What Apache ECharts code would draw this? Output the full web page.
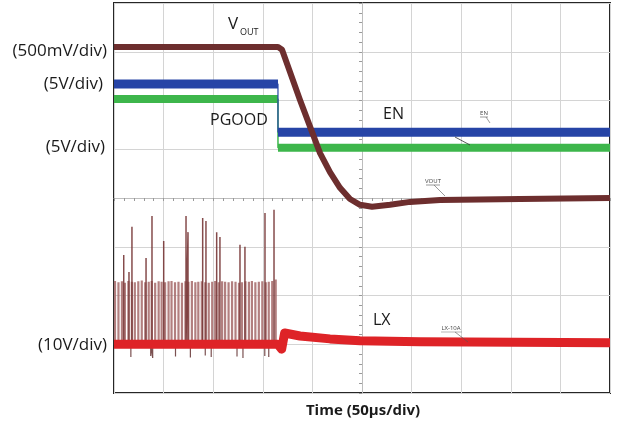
<!DOCTYPE html>
<html>
<head>
<meta charset="utf-8">
<script src="https://cdn.jsdelivr.net/npm/echarts@6/dist/echarts.min.js"></script>
<style>
html,body{margin:0;padding:0;background:#fff;}
#c{width:618px;height:425px;}
</style>
</head>
<body>
<div id="c"></div>
<script>
// Time in microseconds (10 div x 50 us), amplitude in screen divisions (0..8, bottom to top)
const voutT = [0, 165.3, 169.4, 187.5, 207.7, 217.7, 227.8, 237.9, 248, 260.1, 278.2, 298.4, 328.6, 409.3, 500];
const voutV = [7.10, 7.10, 7.04, 6.01, 4.92, 4.53, 4.21, 3.98, 3.86, 3.82, 3.86, 3.92, 3.96, 3.98, 4.00];

const enT = [0, 165.3, 165.3, 500];
const enV = [6.34, 6.34, 5.35, 5.35];

const pgT = [0, 165.3, 165.3, 500];
const pgV = [6.03, 6.03, 5.03, 5.03];

const lxT = [0, 165, 169, 172, 187.5, 217.7, 248, 308.5, 500];
const lxV = [1.00, 1.00, 0.90, 1.23, 1.17, 1.11, 1.07, 1.05, 1.03];

// LX switching spikes (before EN goes low)
const spikeT = [1, 4.5, 8, 11, 14.5, 18, 21, 24.5, 28, 31.5, 35, 38, 41.5, 45, 48, 51.5, 55, 58, 61.5, 65,
  68.5, 72, 75, 78.5, 82, 85, 88.5, 92, 95.5, 99, 102, 105.5, 109, 112, 115.5, 119, 122.5, 126, 129,
  132.5, 136, 139, 142.5, 146, 149.5, 153, 156, 159.5, 163];
const spikeTop = [2.30, 2.27, 2.29, 2.26, 2.30, 2.28, 2.27, 2.29, 2.31, 2.27, 2.28, 2.30, 2.26, 2.29, 2.28, 2.27,
  2.29, 2.30, 2.27, 2.28, 2.26, 2.29, 2.28, 2.30, 2.27, 2.28, 2.29, 2.27, 2.26, 2.28, 2.30, 2.27, 2.29,
  2.28, 2.27, 2.29, 2.28, 2.26, 2.27, 2.29, 2.28, 2.30, 2.27, 2.28, 2.29, 2.27, 2.28, 2.30, 2.33];
const tallT = [9.8, 15.1, 18.1, 32.3, 38.3, 50.1, 72.6, 74.6, 89.4, 92.7, 103.5, 106.8, 127, 132, 152.2, 161.3];
const tallTop = [2.83, 2.48, 3.41, 2.77, 3.63, 3.12, 3.63, 3.30, 3.59, 3.53, 3.30, 3.20, 3.04, 3.00, 3.69, 3.76];
const dipT = [17, 37, 39, 62, 77, 92, 98, 124, 130, 152, 156];
const dipBottom = [0.74, 0.76, 0.72, 0.75, 0.73, 0.77, 0.74, 0.75, 0.72, 0.76, 0.74];

const xTicks = {min: 0, max: 500, interval: 50};
const yTicks = {min: 0, max: 8, interval: 1};

function pairs(t, v) { return t.map((x, i) => [x, v[i]]); }
function pulses(t, tops, base) {
  const out = [];
  t.forEach((x, i) => { out.push([x, base], [x, tops[i]], [x, base]); });
  return out;
}
// thick horizontal segments only (break on vertical steps)
function levels(t, v) {
  const out = [];
  for (let i = 0; i < t.length; i++) {
    if (i > 0 && t[i] === t[i - 1]) out.push(null);
    out.push([t[i], v[i]]);
  }
  return out;
}

const chart = echarts.init(document.getElementById('c'), null, {renderer: 'canvas'});
const FONT = '"Open Sans", "Noto Sans", sans-serif';
const lxBase = lxV[0];

function lineSeries(data, color, width, z, join) {
  return {type: 'line', data: data, symbol: 'none', showSymbol: false, silent: true, sampling: null,
    lineStyle: {color: color, width: width, cap: 'butt', join: join || 'bevel'}, z: z,
    xAxisIndex: 0, yAxisIndex: 0, animation: false, connectNulls: false};
}

const option = {
  animation: false,
  backgroundColor: '#ffffff',
  grid: {left: 114, top: 3, width: 496, height: 390, show: true, borderColor: '#262626', borderWidth: 2, backgroundColor: '#ffffff', z: 0},
  xAxis: [
    {type: 'value', min: xTicks.min, max: xTicks.max, interval: xTicks.interval,
     axisLine: {show: false}, axisTick: {show: false}, axisLabel: {show: false},
     splitLine: {show: true, lineStyle: {color: '#d4d4d4', width: 1}}},
    {type: 'value', min: xTicks.min, max: xTicks.max, interval: xTicks.interval, position: 'bottom', offset: -195,
     axisLine: {show: true, lineStyle: {color: '#bdbdbd', width: 1}},
     axisTick: {show: true, length: 3, lineStyle: {color: '#9a9a9a'}},
     minorTick: {show: true, splitNumber: 5, length: 3, lineStyle: {color: '#9a9a9a'}},
     axisLabel: {show: false}, splitLine: {show: false}}
  ],
  yAxis: [
    {type: 'value', min: yTicks.min, max: yTicks.max, interval: yTicks.interval,
     axisLine: {show: false}, axisTick: {show: false}, axisLabel: {show: false},
     splitLine: {show: true, lineStyle: {color: '#d4d4d4', width: 1}}},
    {type: 'value', min: yTicks.min, max: yTicks.max, interval: yTicks.interval, position: 'left', offset: -248,
     axisLine: {show: true, lineStyle: {color: '#bdbdbd', width: 1}},
     axisTick: {show: true, length: 3, lineStyle: {color: '#9a9a9a'}},
     minorTick: {show: true, splitNumber: 5, length: 3, lineStyle: {color: '#9a9a9a'}},
     axisLabel: {show: false}, splitLine: {show: false}}
  ],
  series: [
    lineSeries(pulses(spikeT, spikeTop, lxBase), 'rgba(165,105,105,0.85)', 2.2, 2, 'miter'),
    lineSeries(pulses(tallT, tallTop, lxBase), 'rgba(120,55,55,0.9)', 1.5, 3, 'miter'),
    lineSeries(pulses(dipT, dipBottom, lxBase), 'rgba(100,50,50,0.85)', 1.2, 3, 'miter'),
    lineSeries(pairs(lxT, lxV), '#de2327', 9, 4, 'round'),
    lineSeries(pairs(pgT, pgV), '#3db64b', 1.5, 5),
    lineSeries(levels(pgT, pgV), '#3db64b', 8, 5),
    lineSeries(pairs(enT, enV), '#2644a6', 1.2, 6),
    lineSeries(levels(enT, enV), '#2644a6', 9, 6),
    lineSeries(pairs(voutT, voutV), '#6d2e2e', 6, 7, 'round')
  ],
  graphic: [
    {type: 'text', x: 107, y: 51, style: {text: '(500mV/div)', font: '17px ' + FONT, fill: '#1a1a1a', textAlign: 'right', textVerticalAlign: 'middle'}},
    {type: 'text', x: 103, y: 84, style: {text: '(5V/div)', font: '17px ' + FONT, fill: '#1a1a1a', textAlign: 'right', textVerticalAlign: 'middle'}},
    {type: 'text', x: 105, y: 147, style: {text: '(5V/div)', font: '17px ' + FONT, fill: '#1a1a1a', textAlign: 'right', textVerticalAlign: 'middle'}},
    {type: 'text', x: 107, y: 345, style: {text: '(10V/div)', font: '17px ' + FONT, fill: '#1a1a1a', textAlign: 'right', textVerticalAlign: 'middle'}},
    {type: 'text', x: 363, y: 411, style: {text: 'Time (50\u00b5s/div)', font: 'bold 15px ' + FONT, fill: '#1a1a1a', textAlign: 'center', textVerticalAlign: 'middle'}},
    {type: 'text', x: 228, y: 24, z: 20, style: {text: 'V', font: '17px ' + FONT, fill: '#1a1a1a', textAlign: 'left', textVerticalAlign: 'middle'}},
    {type: 'text', x: 240, y: 32, z: 20, style: {text: 'OUT', font: '9px ' + FONT, fill: '#1a1a1a', textAlign: 'left', textVerticalAlign: 'middle'}},
    {type: 'text', x: 210, y: 120, z: 20, style: {text: 'PGOOD', font: '16px ' + FONT, fill: '#1a1a1a', textAlign: 'left', textVerticalAlign: 'middle'}},
    {type: 'text', x: 383, y: 114, z: 20, style: {text: 'EN', font: '16px ' + FONT, fill: '#1a1a1a', textAlign: 'left', textVerticalAlign: 'middle'}},
    {type: 'text', x: 373, y: 320, z: 20, style: {text: 'LX', font: '16px ' + FONT, fill: '#1a1a1a', textAlign: 'left', textVerticalAlign: 'middle'}},
    {type: 'text', x: 484, y: 113, z: 20, style: {text: 'EN', font: '6px ' + FONT, fill: '#444', textAlign: 'center', textVerticalAlign: 'middle'}},
    {type: 'line', z: 20, shape: {x1: 480, y1: 117, x2: 488, y2: 117}, style: {stroke: '#555', lineWidth: 0.6}},
    {type: 'line', z: 20, shape: {x1: 486, y1: 117, x2: 490, y2: 123}, style: {stroke: '#555', lineWidth: 0.6}},
    {type: 'line', z: 20, shape: {x1: 455, y1: 137, x2: 470, y2: 145}, style: {stroke: '#333', lineWidth: 0.8}},
    {type: 'text', x: 433, y: 181, z: 20, style: {text: 'VOUT', font: '6px ' + FONT, fill: '#444', textAlign: 'center', textVerticalAlign: 'middle'}},
    {type: 'line', z: 20, shape: {x1: 426, y1: 185, x2: 440, y2: 185}, style: {stroke: '#555', lineWidth: 0.6}},
    {type: 'line', z: 20, shape: {x1: 434, y1: 185, x2: 445, y2: 196}, style: {stroke: '#555', lineWidth: 0.6}},
    {type: 'text', x: 451, y: 328, z: 20, style: {text: 'LX-10A', font: '6px ' + FONT, fill: '#444', textAlign: 'center', textVerticalAlign: 'middle'}},
    {type: 'line', z: 20, shape: {x1: 441, y1: 332, x2: 462, y2: 332}, style: {stroke: '#888', lineWidth: 0.6}},
    {type: 'line', z: 20, shape: {x1: 455, y1: 332, x2: 468, y2: 342}, style: {stroke: '#555', lineWidth: 0.6}}
  ]
};
chart.setOption(option);
</script>
</body>
</html>
